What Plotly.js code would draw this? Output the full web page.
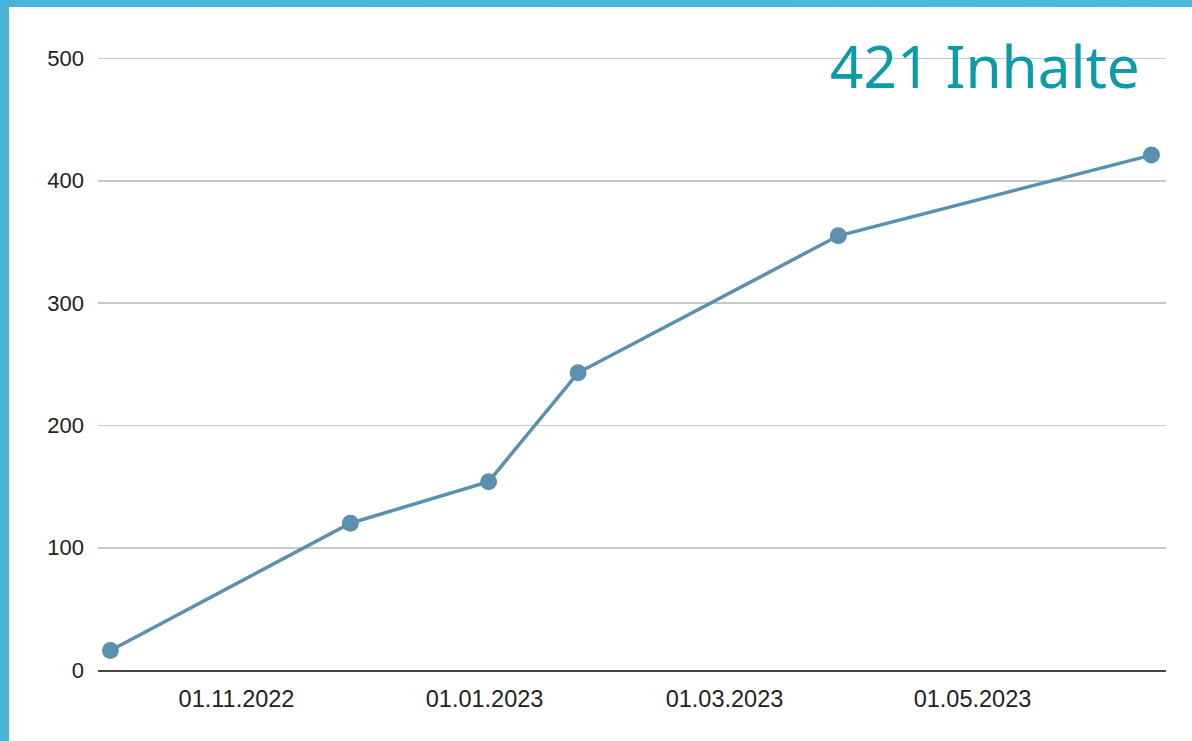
<!DOCTYPE html>
<html>
<head>
<meta charset="utf-8">
<script src="https://cdn.plot.ly/plotly-3.0.1.min.js"></script>
<style>
  html, body { margin: 0; padding: 0; background: #ffffff; }
  #frame { position: absolute; left: 0; top: 0; width: 1192px; height: 741px;
           background: linear-gradient(90deg, #48b4dc 0%, #4cbad6 100%); overflow: hidden; }
  #chart { position: absolute; left: 9px; top: 7px; width: 1183px; height: 734px; background: #ffffff; }
</style>
</head>
<body>
<div id="frame"><div id="chart"></div></div>
<script>
// Data
const dates = ['2022-10-01', '2022-11-29', '2023-01-02', '2023-01-24', '2023-03-29', '2023-06-14'];
const counts = [16, 120, 154, 243, 355, 421];
const tickDates = ['2022-11-01', '2023-01-01', '2023-03-01', '2023-05-01'];
const tickLabels = ['01.11.2022', '01.01.2023', '01.03.2023', '01.05.2023'];
const yTicks = [0, 100, 200, 300, 400, 500];
const titleText = '421 Inhalte';

const trace = {
  x: dates,
  y: counts,
  type: 'scatter',
  mode: 'lines+markers',
  line: { color: '#5b91ae', width: 3.5 },
  marker: { color: '#5b91ae', size: 17 },
  hoverinfo: 'x+y',
  cliponaxis: false
};

const layout = {
  width: 1183,
  height: 734,
  margin: { l: 89, r: 26, t: 49, b: 71 },
  paper_bgcolor: '#ffffff',
  plot_bgcolor: '#ffffff',
  showlegend: false,
  font: { family: 'Liberation Sans, Arial, sans-serif', size: 22, color: '#222222' },
  xaxis: {
    type: 'date',
    range: ['2022-09-27 22:30', '2023-06-17 14:00'],
    tickvals: tickDates,
    ticktext: tickLabels,
    showgrid: false,
    zeroline: false,
    showline: true,
    linecolor: '#444444',
    linewidth: 2,
    ticks: '',
    ticklabelstandoff: 7,
    tickfont: { family: 'Liberation Sans, Arial, sans-serif', size: 23.5, color: '#222222' }
  },
  yaxis: {
    range: [0, 502],
    tickvals: yTicks,
    showgrid: true,
    gridcolor: '#c8c8c8',
    gridwidth: 1.7,
    zeroline: false,
    showline: false,
    ticks: '',
    ticklabelstandoff: 13,
    tickfont: { family: 'Liberation Sans, Arial, sans-serif', size: 22, color: '#222222' }
  },
  annotations: [{
    text: titleText,
    xref: 'paper', yref: 'paper',
    x: 0.9775, y: 0.985,
    xanchor: 'right', yanchor: 'middle',
    showarrow: false,
    font: { family: 'Noto Sans, sans-serif', size: 58.5, color: '#0e9aa7' }
  }]
};

Plotly.newPlot('chart', [trace], layout, { displayModeBar: false, staticPlot: true });
</script>
</body>
</html>
